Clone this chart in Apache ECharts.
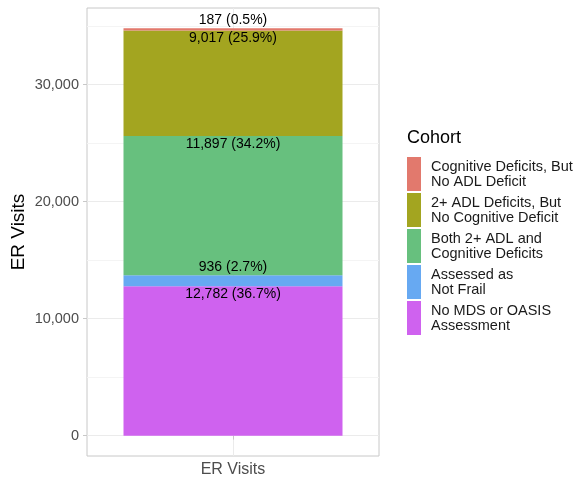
<!DOCTYPE html>
<html><head><meta charset="utf-8">
<script src="https://cdn.jsdelivr.net/npm/echarts@6/dist/echarts.min.js"></script>
<style>html,body{margin:0;padding:0;background:#fff}#c{width:576px;height:477px}</style>
</head><body><div id="c"></div>
<script>
const categories = ['ER Visits'];
// stacking order bottom -> top
const cohorts = ['No MDS or OASIS\nAssessment','Assessed as\nNot Frail','Both 2+ ADL and\nCognitive Deficits','2+ ADL Deficits, But\nNo Cognitive Deficit','Cognitive Deficits, But\nNo ADL Deficit'];
const values = [12782, 936, 11897, 9017, 187];
const colors = ['#CF62EF','#67A9F2','#67C07E','#A3A520','#E2796D'];
const labelPos = ['insideTop','top','insideTop','insideTop','top'];
const majorTicks = [0,10000,20000,30000];
const minorTicks = [5000,15000,25000,35000];

const total = values.reduce((a,b)=>a+b,0);
const pad = total*0.05;
const yMin = -pad, yMax = total + pad;
const fmt = v => v.toLocaleString('en-US');
const FF = 'Liberation Sans, Arial, sans-serif';

const chart = echarts.init(document.getElementById('c'), null, {renderer:'canvas'});
const series = values.map((v,i)=>({
  name: cohorts[i], type:'bar', stack:'s', barWidth:'75%',
  data:[v], itemStyle:{color:colors[i]},
  label:{show:true, position:labelPos[i], distance:1,
    formatter: () => fmt(v)+' ('+(v/total*100).toFixed(1)+'%)',
    color:'#000', fontSize:14, fontFamily:FF}
}));
series.push({type:'line', xAxisIndex:1, yAxisIndex:1, data:[], silent:true});
chart.setOption({
  animation:false,
  grid:{left:87, right:197, top:8, bottom:21, outerBoundsMode:'none', containLabel:false,
    show:true, borderColor:'#c8c8c8', borderWidth:1},
  legend:{orient:'vertical', left:407, top:157, padding:0, itemWidth:14, itemHeight:34, itemGap:2,
    icon:'rect', data: cohorts.slice().reverse(),
    textStyle:{fontSize:14.5, color:'#1a1a1a', lineHeight:15, padding:[0,0,0,5], fontFamily:FF},
    itemStyle:{borderWidth:0}},
  title:{text:'Cohort', left:407, top:129, padding:0, textStyle:{fontSize:18, fontWeight:'normal', color:'#000', fontFamily:FF}},
  xAxis:[{type:'category', data:categories,
    axisLine:{show:false},
    axisTick:{show:true, alignWithLabel:true, length:4, lineStyle:{color:'#c8c8c8'}},
    axisLabel:{color:'#4d4d4d', fontSize:16, margin:6, fontFamily:FF},
    splitLine:{show:false}
  },{type:'value', min:0, max:1, show:true, position:'bottom',
    axisLine:{show:false}, axisLabel:{show:false},
    axisTick:{show:false, customValues:[0.5]},
    splitLine:{show:true, lineStyle:{color:'#ebebeb', width:1}}
  }],
  yAxis:[{type:'value', min:yMin, max:yMax,
    name:'ER Visits', nameLocation:'middle', nameGap:59, nameRotate:90, nameMoveOverlap:false,
    nameTextStyle:{fontSize:19, color:'#000', fontFamily:FF},
    axisLine:{show:false},
    axisTick:{show:true, length:4, customValues:majorTicks, lineStyle:{color:'#c8c8c8'}},
    axisLabel:{customValues:majorTicks, formatter:v=>fmt(v), color:'#4d4d4d', fontSize:14.5, margin:8, fontFamily:FF},
    splitLine:{show:true, lineStyle:{color:'#ebebeb', width:1}}
  },{type:'value', min:yMin, max:yMax, show:true, position:'left',
    axisLine:{show:false}, axisLabel:{show:false},
    axisTick:{show:false, customValues:minorTicks},
    splitLine:{show:true, lineStyle:{color:'#f4f4f4', width:1}}
  }],
  series: series
});
</script></body></html>
